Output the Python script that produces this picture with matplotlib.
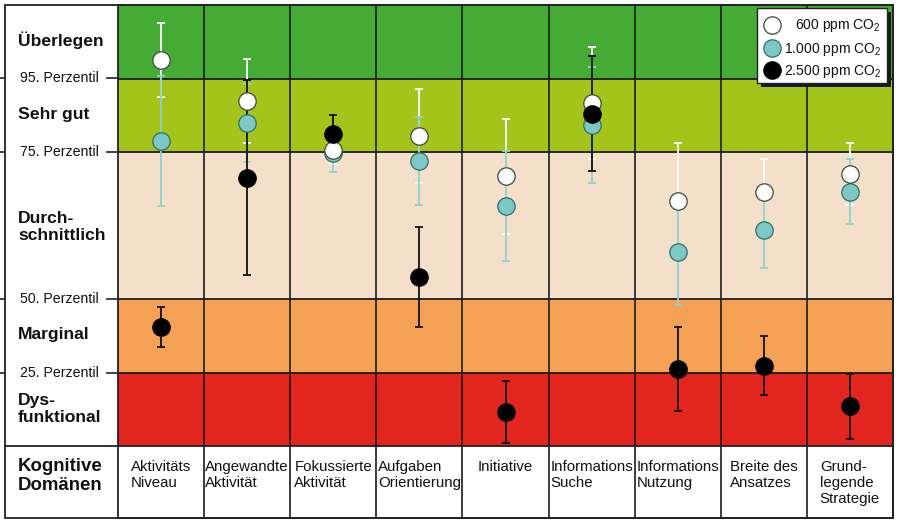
import matplotlib
matplotlib.use("Agg")
import matplotlib.pyplot as plt
from matplotlib.lines import Line2D
from matplotlib.patches import Rectangle
from matplotlib import font_manager

# ---------------- data ----------------
categories = ['Aktivitäts\nNiveau', 'Angewandte\nAktivität', 'Fokussierte\nAktivität',
              'Aufgaben\nOrientierung', 'Initiative', 'Informations\nSuche',
              'Informations\nNutzung', 'Breite des\nAnsatzes', 'Grund-\nlegende\nStrategie']

# scores on a band scale: 0 bottom, 1 = 25. perc., 2 = 50. perc., 4 = 75. perc., 5 = 95. perc., 6 top
ppm600 = [5.25, 4.69, 4.03, 4.22, 3.67, 4.67, 3.33, 3.46, 3.70]
ppm600_err = [0.50, 0.57, 0.20, 0.64, 0.78, 0.76, 0.79, 0.45, 0.42]
ppm1000 = [4.15, 4.40, 3.99, 3.88, 3.27, 4.37, 2.64, 2.94, 3.46]
ppm1000_err = [0.88, 0.53, 0.26, 0.60, 0.75, 0.79, 0.72, 0.52, 0.44]
ppm2500 = [1.62, 3.65, 4.25, 2.30, 0.46, 4.52, 1.05, 1.09, 0.54]
ppm2500_err = [0.27, 1.33, 0.25, 0.68, 0.42, 0.78, 0.57, 0.40, 0.44]

band_edges = [0, 1, 2, 4, 5, 6]
band_colors = ['#E32520', '#F4A055', '#F3DFCA', '#A4C41B', '#45AB35']
band_names = ['Dys-\nfunktional', 'Marginal', 'Durch-\nschnittlich', 'Sehr gut', 'Überlegen']
perc_values = [1, 2, 4, 5]
perc_labels = ['25. Perzentil', '50. Perzentil', '75. Perzentil', '95. Perzentil']
series_labels = ['600 ppm CO$\\mathregular{_2}$', '1.000 ppm CO$\\mathregular{_2}$',
                 '2.500 ppm CO$\\mathregular{_2}$']

# ---------------- fonts ----------------
names = {f.name for f in font_manager.fontManager.ttflist}
base = 'Liberation Sans' if 'Liberation Sans' in names else 'DejaVu Sans'
narrow_ok = 'Liberation Sans Narrow' in names
narrow = 'Liberation Sans Narrow' if narrow_ok else base
legend_fs = 11.5 if narrow_ok else 10.0
plt.rcParams['font.family'] = [base, 'DejaVu Sans']

W, H = 900, 524
fig = plt.figure(figsize=(W / 100, H / 100), dpi=100)
fig.patch.set_facecolor('white')


def fx(px):
    return px / W


def fy(py):
    return 1 - py / H


L, R, T, B, B2 = 118, 893, 5, 446, 518
ax = fig.add_axes([fx(L), fy(B), fx(R) - fx(L), fy(T) - fy(B)])
n = len(categories)
ax.set_xlim(0, n)
ax.set_ylim(band_edges[0], band_edges[-1])
for i in range(len(band_colors)):
    ax.axhspan(band_edges[i], band_edges[i + 1], color=band_colors[i], zorder=0, lw=0)
for v in perc_values:
    ax.axhline(v, color='#1c1c1c', lw=1.3, zorder=1)
for k in range(1, n):
    ax.axvline(k, color='#1c1c1c', lw=1.2, zorder=1)
ax.set_xticks([])
ax.set_yticks([])
for s in ax.spines.values():
    s.set_color('#222222')
    s.set_linewidth(1.3)

xs = [i + 0.5 for i in range(n)]
err_cfg = [
    (ppm600, ppm600_err, 'white', 3.0),
    (ppm1000, ppm1000_err, '#8ED1CD', 3.1),
    (ppm2500, ppm2500_err, '#111111', 3.2),
]
for vals, errs, col, z in err_cfg:
    ax.errorbar(xs, vals, yerr=errs, fmt='none', ecolor=col, elinewidth=1.3,
                capsize=2.6, capthick=1.3, zorder=z)

ms = 12.5
ax.plot(xs, ppm1000, 'o', ms=ms, mfc='#7DC8C4', mec='#2E6E6A', mew=0.9, zorder=4.0, ls='none')
ax.plot(xs, ppm600, 'o', ms=ms, mfc='white', mec='#3A4A3A', mew=0.9, zorder=4.1, ls='none')
ax.plot(xs, ppm2500, 'o', ms=ms, mfc='black', mec='black', mew=0.9, zorder=4.2, ls='none')

# bottom row with category labels
axb = fig.add_axes([fx(L), fy(B2), fx(R) - fx(L), fy(B) - fy(B2)])
axb.set_xlim(0, n)
axb.set_ylim(0, 1)
axb.set_xticks([])
axb.set_yticks([])
for s in axb.spines.values():
    s.set_color('#222222')
    s.set_linewidth(1.3)
for k in range(1, n):
    axb.axvline(k, color='#1c1c1c', lw=1.2)
for x, lab in zip(xs, categories):
    axb.text(x, 0.80, lab, ha='center', va='top', multialignment='left',
             fontsize=10.8, linespacing=1.16, color='#111111')

# outer frame and separators
fig.add_artist(Rectangle((fx(5), fy(B2)), fx(R) - fx(5), fy(T) - fy(B2), fill=False,
                         ec='#222222', lw=1.3, transform=fig.transFigure))
fig.add_artist(Line2D([fx(5), fx(L)], [fy(B), fy(B)], color='#222222', lw=1.3))

# left labels
band_label_y = [409, 335, 227, 115, 40]
for name, py in zip(band_names, band_label_y):
    fig.text(fx(18), fy(py), name, ha='left', va='center', fontsize=12.6,
             fontweight='bold', linespacing=1.18, color='#111111')
fig.text(fx(18), fy(476), 'Kognitive\nDomänen', ha='left', va='center', fontsize=13.4,
         fontweight='bold', linespacing=1.2, color='#111111')

perc_py = [373, 299, 152, 78]
for lab, py in zip(perc_labels, perc_py):
    fig.text(fx(20), fy(py), lab, ha='left', va='center', fontsize=10.2, color='#111111')
    fig.add_artist(Line2D([fx(0), fx(4)], [fy(py), fy(py)], color='#222222', lw=1.2))
    fig.add_artist(Line2D([fx(107), fx(L)], [fy(py), fy(py)], color='#222222', lw=1.2))

# legend (manual, right-aligned texts)
lx0, ly0, lx1, ly1 = 757, 8, 887, 83
fig.add_artist(Rectangle((fx(lx0 + 4), fy(ly1 + 4)), fx(lx1) - fx(lx0), fy(ly0) - fy(ly1),
                         fc='#1a1a1a', ec='none', transform=fig.transFigure, zorder=10))
fig.add_artist(Rectangle((fx(lx0), fy(ly1)), fx(lx1) - fx(lx0), fy(ly0) - fy(ly1),
                         fc='white', ec='#222222', lw=1.0, transform=fig.transFigure, zorder=11))
leg_fc = ['white', '#7DC8C4', 'black']
leg_ec = ['#3A4A3A', '#2E6E6A', 'black']
leg_y = [25, 48, 70]
for lab, fc, ec, py in zip(series_labels, leg_fc, leg_ec, leg_y):
    fig.add_artist(Line2D([fx(772)], [fy(py)], marker='o', ms=ms, mfc=fc, mec=ec, mew=0.9,
                          ls='none', zorder=12))
    fig.text(fx(881), fy(py + 1), lab, ha='right', va='center', fontsize=legend_fs,
             family=[narrow, 'DejaVu Sans'], color='#111111', zorder=12)

fig.savefig('out.png', dpi=100, facecolor='white')
